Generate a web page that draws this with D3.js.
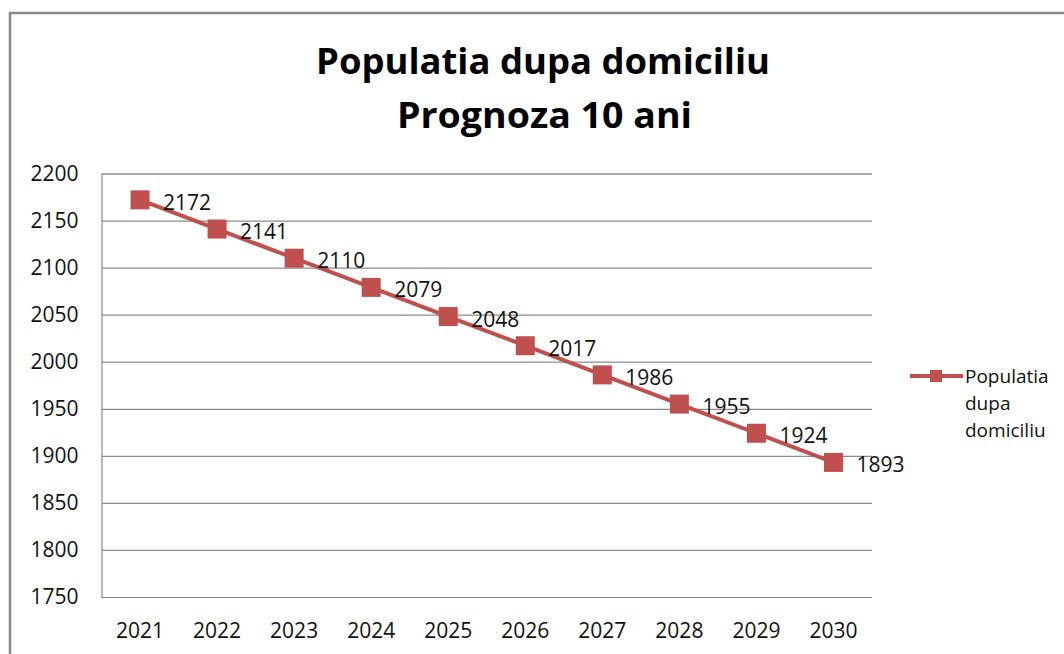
<!DOCTYPE html>
<html>
<head>
<meta charset="utf-8">
<script src="https://cdn.jsdelivr.net/npm/d3@7"></script>
<style>
	body { margin: 0; background: #fff; }
	svg { display: block; font-family: 'Open Sans', sans-serif; }
</style>
</head>
<body>
<svg id="canvas"></svg>
<script>
// chart values
const years = ['2021', '2022', '2023', '2024', '2025', '2026', '2027', '2028', '2029', '2030'];
const population = [2172, 2141, 2110, 2079, 2048, 2017, 1986, 1955, 1924, 1893];
const yTicks = [1750, 1800, 1850, 1900, 1950, 2000, 2050, 2100, 2150, 2200];
const titleLines = ['Populatia dupa domiciliu', 'Prognoza 10 ani'];
const seriesName = ['Populatia', 'dupa', 'domiciliu'];

const w = 1064;
const h = 654;
const plot = { left: 101.5, right: 872, top: 173.5, bottom: 597 };
const red = '#C0504D';
const grid = '#8c8c8c';

const svg = d3.select('#canvas').attr('width', w).attr('height', h);

// outer frame (runs off right and bottom)
svg.append('rect')
	.attr('x', 10).attr('y', 13)
	.attr('width', w + 20).attr('height', h + 20)
	.attr('fill', 'none')
	.attr('stroke', '#888')
	.attr('stroke-width', 2.5);

// title
svg.append('text')
	.attr('x', 543).attr('y', 74)
	.attr('text-anchor', 'middle')
	.attr('font-size', 36).attr('font-weight', 'bold')
	.attr('textLength', 454).attr('lengthAdjust', 'spacingAndGlyphs')
	.text(titleLines[0]);
svg.append('text')
	.attr('x', 544.5).attr('y', 128)
	.attr('text-anchor', 'middle')
	.attr('font-size', 36).attr('font-weight', 'bold')
	.attr('textLength', 295).attr('lengthAdjust', 'spacingAndGlyphs')
	.text(titleLines[1]);

//scalers
const xScale = d3.scaleBand().domain(years).range([plot.left, plot.right]).padding(0);
const yScale = d3.scaleLinear().domain([1750, 2200]).range([plot.bottom, plot.top]);
const cx = (d) => xScale(d) + xScale.bandwidth() / 2;

// gridlines
const gridAxis = d3.axisLeft(yScale).tickValues(yTicks).tickSize(-(plot.right - plot.left)).tickFormat('');
const gridG = svg.append('g').attr('transform', 'translate(' + plot.left + ',0)').call(gridAxis);
gridG.selectAll('line').attr('stroke', grid).attr('stroke-width', 1.2);
gridG.select('.domain').attr('stroke', grid).attr('stroke-width', 1.2);

// y labels
const yAxis = d3.axisLeft(yScale).tickValues(yTicks).tickSize(0).tickPadding(23).tickFormat(d3.format('d'));
const yG = svg.append('g').attr('id', 'y-axis').attr('transform', 'translate(' + plot.left + ',0)').call(yAxis);
yG.select('.domain').remove();
yG.selectAll('text').attr('font-size', 21).attr('font-family', 'Open Sans').attr('fill', '#111');

// x labels
const xAxis = d3.axisBottom(xScale).tickSize(0).tickPadding(26);
const xG = svg.append('g').attr('id', 'x-axis').attr('transform', 'translate(0,' + plot.bottom + ')').call(xAxis);
xG.select('.domain').remove();
xG.selectAll('text').attr('font-size', 21).attr('font-family', 'Open Sans').attr('fill', '#111');

// series line
const line = d3.line().x((d, i) => cx(years[i])).y((d) => yScale(d));
svg.append('path')
	.datum(population)
	.attr('d', line)
	.attr('fill', 'none')
	.attr('stroke', red)
	.attr('stroke-width', 4);

// markers
const ms = 19;
svg.selectAll('rect.marker')
	.data(population)
	.enter()
	.append('rect')
	.attr('class', 'marker')
	.attr('x', (d, i) => cx(years[i]) - ms / 2)
	.attr('y', (d) => yScale(d) - ms / 2)
	.attr('width', ms).attr('height', ms)
	.attr('fill', red);

// data labels
svg.selectAll('text.dlabel')
	.data(population)
	.enter()
	.append('text')
	.attr('class', 'dlabel')
	.attr('x', (d, i) => cx(years[i]) + 23)
	.attr('y', (d) => yScale(d) + 10)
	.attr('font-size', 21)
	.attr('fill', '#111')
	.text((d) => d);

// legend
const lg = svg.append('g').attr('transform', 'translate(910,376)');
lg.append('line').attr('x1', 0).attr('x2', 53).attr('y1', 0).attr('y2', 0).attr('stroke', red).attr('stroke-width', 4);
lg.append('rect').attr('x', 20).attr('y', -6).attr('width', 12).attr('height', 12).attr('fill', red);
lg.selectAll('text')
	.data(seriesName)
	.enter()
	.append('text')
	.attr('x', 55)
	.attr('y', (d, i) => 7 + i * 27)
	.attr('font-size', 19)
	.attr('fill', '#111')
	.text((d) => d);
</script>
</body>
</html>
